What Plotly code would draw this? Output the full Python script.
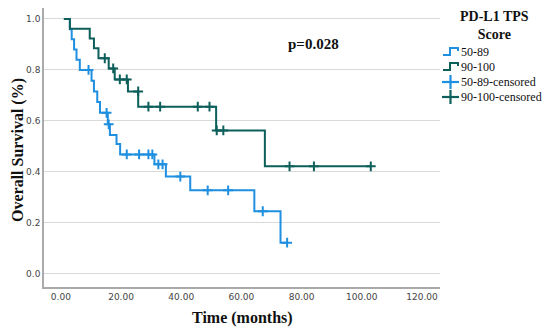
import plotly.graph_objects as go

# Kaplan-Meier step data
blue_t = [1.0, 3.0, 3.6, 4.4, 5.2, 6.3, 10.2, 11.0, 12.1, 13.0, 15.6, 16.3, 18.5, 19.7, 31.1, 34.9, 43.0, 64.3, 73.0, 75.2]
blue_s = [1.0, 0.96, 0.92, 0.88, 0.84, 0.80, 0.758, 0.716, 0.674, 0.632, 0.587, 0.545, 0.51, 0.469, 0.430, 0.382, 0.328, 0.246, 0.123, 0.123]
blue_cens_t = [9.2, 15.2, 15.9, 21.9, 26.0, 29.1, 30.4, 32.4, 33.8, 39.7, 48.8, 55.6, 67.1, 75.2]
blue_cens_s = [0.80, 0.632, 0.587, 0.469, 0.469, 0.469, 0.469, 0.430, 0.430, 0.382, 0.328, 0.328, 0.246, 0.123]

teal_t = [1.0, 3.0, 9.6, 11.0, 12.5, 15.9, 17.9, 22.3, 25.7, 51.6, 67.8, 103.0]
teal_s = [1.0, 0.962, 0.923, 0.885, 0.846, 0.806, 0.763, 0.716, 0.656, 0.563, 0.422, 0.422]
teal_cens_t = [14.6, 17.4, 19.6, 21.9, 25.7, 29.1, 33.0, 45.5, 49.4, 51.8, 54.0, 76.0, 84.1, 103.0]
teal_cens_s = [0.846, 0.806, 0.763, 0.763, 0.716, 0.656, 0.656, 0.656, 0.656, 0.563, 0.563, 0.422, 0.422, 0.422]

x_ticks = [0, 20, 40, 60, 80, 100, 120]
y_ticks = [0.0, 0.2, 0.4, 0.6, 0.8, 1.0]

legend_title = "PD-L1 TPS<br>Score"
legend_labels = ["50-89", "90-100", "50-89-censored", "90-100-censored"]

BLUE = "#1f8fe0"
TEAL = "#0d5f5b"
SERIF = "Liberation Serif, Times New Roman, serif"

# page body has an 8px margin: figure is drawn 8px shifted, so shrink it
OFF = 8
W, H = 550 - OFF, 331 - OFF
L, R, T, B = 36, 110, 0, 44
PW, PH = W - L - R, H - T - B


def px(x_ref):
    return (x_ref - OFF - L) / PW


def py(y_ref):
    return (H - B - (y_ref - OFF)) / PH


fig = go.Figure()
fig.add_trace(go.Scatter(x=blue_t, y=blue_s, mode="lines", line=dict(color=BLUE, width=2, shape="hv"), name=legend_labels[0]))
fig.add_trace(go.Scatter(x=teal_t, y=teal_s, mode="lines", line=dict(color=TEAL, width=2, shape="hv"), name=legend_labels[1]))
fig.add_trace(go.Scatter(x=blue_cens_t, y=blue_cens_s, mode="markers",
                         marker=dict(symbol="cross-thin", size=7, line=dict(color=BLUE, width=2)),
                         name=legend_labels[2]))
fig.add_trace(go.Scatter(x=teal_cens_t, y=teal_cens_s, mode="markers",
                         marker=dict(symbol="cross-thin", size=7, line=dict(color=TEAL, width=2)),
                         name=legend_labels[3]))

fig.add_annotation(x=84, y=0.90, text="<b>p=0.028</b>", showarrow=False, xanchor="center", yanchor="middle",
                   font=dict(family=SERIF, size=15, color="#111"))

# axis titles
fig.add_annotation(xref="paper", yref="paper", x=px(18), y=py(150), text="<b>Overall Survival (%)</b>",
                   textangle=-90, showarrow=False, xanchor="center", yanchor="middle",
                   font=dict(family=SERIF, size=16, color="#111"))
fig.add_annotation(xref="paper", yref="paper", x=0.5, y=py(318), text="<b>Time (months)</b>",
                   showarrow=False, xanchor="center", yanchor="middle",
                   font=dict(family=SERIF, size=16, color="#111"))

# custom legend
fig.add_annotation(xref="paper", yref="paper", x=px(494), y=py(25), text="<b>" + legend_title + "</b>",
                   showarrow=False, xanchor="center", yanchor="middle",
                   font=dict(family=SERIF, size=14, color="#111"), align="center")
row_y = [52, 67, 82, 97]
cols = [BLUE, TEAL, BLUE, TEAL]
shapes = []
for i, (lab, c, yy) in enumerate(zip(legend_labels, cols, row_y)):
    fig.add_annotation(xref="paper", yref="paper", x=px(459), y=py(yy), text=lab,
                       xanchor="left", yanchor="middle",
                       showarrow=False, font=dict(family=SERIF, size=12, color="#111"))
    if i < 2:
        path = "M {} {} L {} {} L {} {} L {} {} L {} {}".format(
            px(443), py(yy + 3), px(450), py(yy + 3), px(450), py(yy - 4), px(458), py(yy - 4), px(458), py(yy - 1))
        shapes.append(dict(type="path", xref="paper", yref="paper", path=path, line=dict(color=c, width=2)))
    else:
        shapes.append(dict(type="line", xref="paper", yref="paper", x0=px(442), x1=px(459), y0=py(yy), y1=py(yy),
                           line=dict(color=c, width=2.2)))
        shapes.append(dict(type="line", xref="paper", yref="paper", x0=px(450.5), x1=px(450.5),
                           y0=py(yy - 7), y1=py(yy + 7), line=dict(color=c, width=2.2)))

fig.update_layout(
    width=W, height=H,
    margin=dict(l=L, r=R, t=T, b=B),
    paper_bgcolor="white", plot_bgcolor="white",
    showlegend=False,
    shapes=shapes,
    xaxis=dict(
        range=[-5.6, 126], tickvals=x_ticks, tickformat=".2f", automargin=False,
        showgrid=False, zeroline=False, showline=True, linecolor="#aaaaaa", linewidth=1.5,
        ticks="", tickfont=dict(family="DejaVu Sans, sans-serif", size=9, color="#444"),
    ),
    yaxis=dict(
        range=[-0.051, 1.043], tickvals=y_ticks, tickformat=".1f", automargin=False,
        showgrid=True, gridcolor="#d9d9d9", gridwidth=1, zeroline=False,
        showline=True, linecolor="#aaaaaa", linewidth=1.5,
        ticks="", tickfont=dict(family="DejaVu Sans, sans-serif", size=9, color="#444"),
    ),
)

fig.write_html("out.html")
